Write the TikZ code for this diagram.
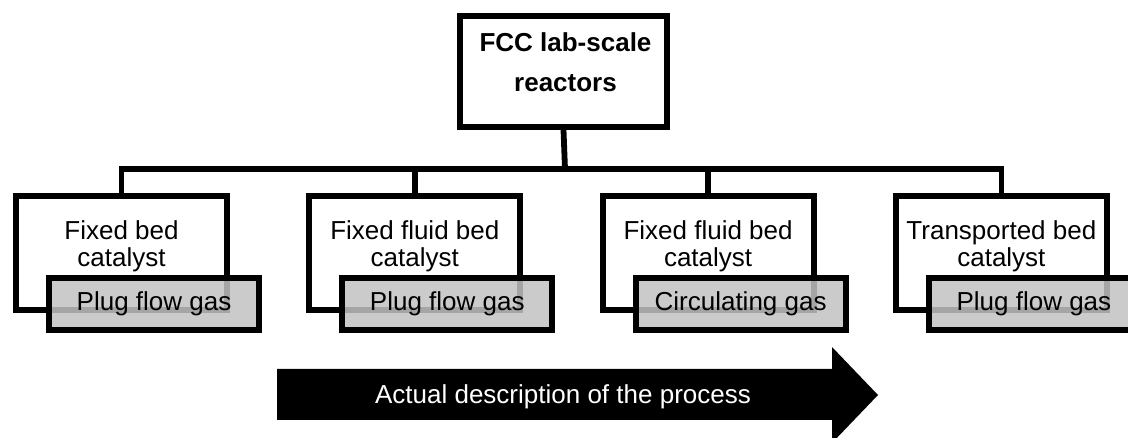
\documentclass[tikz,border=0pt]{standalone}
\usepackage{fontspec}
\setmainfont{Liberation Sans}
\begin{document}
\begin{tikzpicture}[x=1pt,y=-1pt,
  frame/.style={draw=black, line width=5.8pt, rectangle, inner sep=0pt,
                minimum width=211pt, minimum height=114pt},
  gasbox/.style={draw=black, line width=5.8pt, rectangle, inner sep=0pt,
                 minimum width=210pt, minimum height=52pt,
                 fill={rgb,255:red,195;green,195;blue,195}, fill opacity=0.85,
                 text opacity=1, font=\fontsize{26}{27}\selectfont},
  lbl/.style={align=center, font=\fontsize{26}{27}\selectfont, inner sep=0pt, anchor=base},
  conn/.style={draw=black, line width=5.8pt}]
\useasboundingbox (0,0) rectangle (1128,438);
\fill[white] (0,0) rectangle (1128,438);

% top box
\node[frame, minimum width=207pt, minimum height=111pt] (top) at (563.5,71.5) {};
\node[lbl, font=\bfseries\fontsize{26}{40}\selectfont] (toptxt) at (565.5,92) {FCC lab-scale\\reactors};

% reactor boxes
\node[frame] (b1) at (121.5,253) {};
\node[frame] (b2) at (414.8,253) {};
\node[frame] (b3) at (708.1,253) {};
\node[frame] (b4) at (1001.4,253) {};

\node[lbl] (t1) at (121.5,267) {Fixed bed\\catalyst};
\node[lbl] (t2) at (414.8,267) {Fixed fluid bed\\catalyst};
\node[lbl] (t3) at (708.1,267) {Fixed fluid bed\\catalyst};
\node[lbl] (t4) at (1001.4,267) {Transported bed\\catalyst};

% connectors
\coordinate (bar) at (565,169);
\draw[conn] (top.south) -- (bar);
\draw[conn] (b1.north) -- (b1.north |- bar) -- (b4.north |- bar) -- (b4.north);
\draw[conn] (b2.north) -- (b2.north |- bar);
\draw[conn] (b3.north) -- (b3.north |- bar);

% gas boxes
\node[gasbox] (g1) at (154,304) {Plug flow gas};
\node[gasbox] (g2) at (447.3,304) {Plug flow gas};
\node[gasbox] (g3) at (740.6,304) {Circulating gas};
\node[gasbox] (g4) at (1033.9,304) {Plug flow gas};

% process arrow
\fill[black] (277,369) -- (832,369) -- (832,347) -- (878,395) -- (832,443)
  -- (832,420) -- (277,420) -- cycle;
\node[lbl, text=white] (arrtxt) at (563,403) {Actual description of the process};
\end{tikzpicture}
\end{document}
